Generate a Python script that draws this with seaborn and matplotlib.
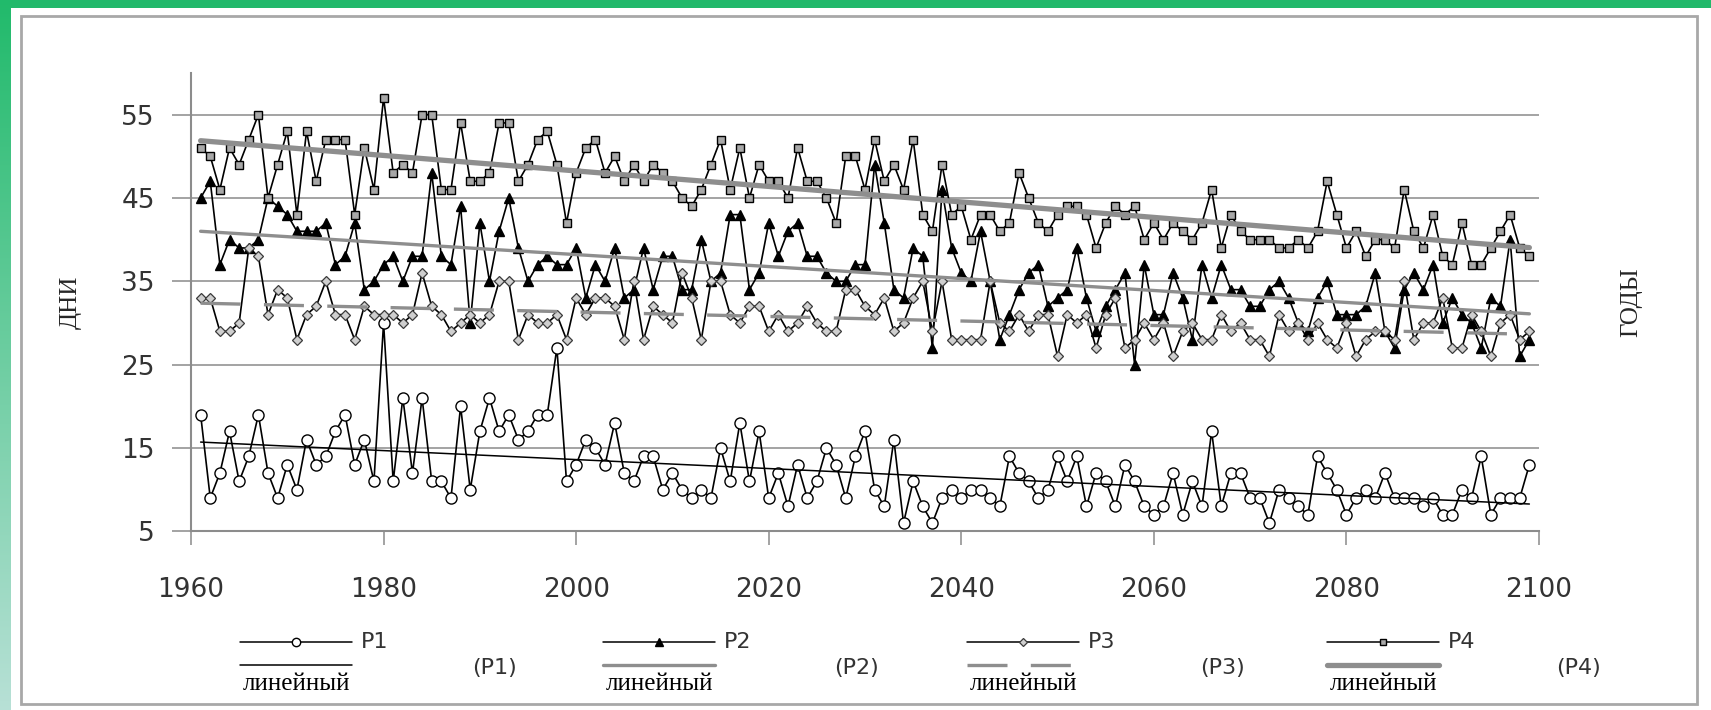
import numpy as np
import matplotlib
matplotlib.use("Agg")
import matplotlib.pyplot as plt
import seaborn as sns
from matplotlib.lines import Line2D
from matplotlib.patches import Rectangle

# годы и ряды
years = list(range(1961, 2100))

p1 = [19, 9, 12, 17, 11, 14, 19, 12, 9, 13,
      10, 16, 13, 14, 17, 19, 13, 16, 11, 30,
      11, 21, 12, 21, 11, 11, 9, 20, 10, 17,
      21, 17, 19, 16, 17, 19, 19, 27, 11, 13,
      16, 15, 13, 18, 12, 11, 14, 14, 10, 12,
      10, 9, 10, 9, 15, 11, 18, 11, 17, 9,
      12, 8, 13, 9, 11, 15, 13, 9, 14, 17,
      10, 8, 16, 6, 11, 8, 6, 9, 10, 9,
      10, 10, 9, 8, 14, 12, 11, 9, 10, 14,
      11, 14, 8, 12, 11, 8, 13, 11, 8, 7,
      8, 12, 7, 11, 8, 17, 8, 12, 12, 9,
      9, 6, 10, 9, 8, 7, 14, 12, 10, 7,
      9, 10, 9, 12, 9, 9, 9, 8, 9, 7,
      7, 10, 9, 14, 7, 9, 9, 9, 13]

p2 = [45, 47, 37, 40, 39, 39, 40, 45, 44, 43,
      41, 41, 41, 42, 37, 38, 42, 34, 35, 37,
      38, 35, 38, 38, 48, 38, 37, 44, 30, 42,
      35, 41, 45, 39, 35, 37, 38, 37, 37, 39,
      33, 37, 35, 39, 33, 34, 39, 34, 38, 38,
      34, 34, 40, 35, 36, 43, 43, 34, 36, 42,
      38, 41, 42, 38, 38, 36, 35, 35, 37, 37,
      49, 42, 34, 33, 39, 38, 27, 46, 39, 36,
      35, 41, 35, 28, 31, 34, 36, 37, 32, 33,
      34, 39, 33, 29, 32, 34, 36, 25, 37, 31,
      31, 36, 33, 28, 37, 33, 37, 34, 34, 32,
      32, 34, 35, 33, 30, 29, 33, 35, 31, 31,
      31, 32, 36, 29, 27, 34, 36, 34, 37, 30,
      33, 31, 30, 27, 33, 32, 40, 26, 28]

p3 = [33, 33, 29, 29, 30, 39, 38, 31, 34, 33,
      28, 31, 32, 35, 31, 31, 28, 32, 31, 31,
      31, 30, 31, 36, 32, 31, 29, 30, 31, 30,
      31, 35, 35, 28, 31, 30, 30, 31, 28, 33,
      31, 33, 33, 32, 28, 35, 28, 32, 31, 30,
      36, 33, 28, 35, 35, 31, 30, 32, 32, 29,
      31, 29, 30, 32, 30, 29, 29, 34, 34, 32,
      31, 33, 29, 30, 33, 35, 29, 35, 28, 28,
      28, 28, 35, 30, 29, 31, 29, 31, 31, 26,
      31, 30, 31, 27, 31, 33, 27, 28, 30, 28,
      30, 26, 29, 30, 28, 28, 31, 29, 30, 28,
      28, 26, 31, 29, 30, 28, 30, 28, 27, 30,
      26, 28, 29, 29, 28, 35, 28, 30, 30, 33,
      27, 27, 31, 29, 26, 30, 31, 28, 29]

p4 = [51, 50, 46, 51, 49, 52, 55, 45, 49, 53,
      43, 53, 47, 52, 52, 52, 43, 51, 46, 57,
      48, 49, 48, 55, 55, 46, 46, 54, 47, 47,
      48, 54, 54, 47, 49, 52, 53, 49, 42, 48,
      51, 52, 48, 50, 47, 49, 47, 49, 48, 47,
      45, 44, 46, 49, 52, 46, 51, 45, 49, 47,
      47, 45, 51, 47, 47, 45, 42, 50, 50, 46,
      52, 47, 49, 46, 52, 43, 41, 49, 43, 44,
      40, 43, 43, 41, 42, 48, 45, 42, 41, 43,
      44, 44, 43, 39, 42, 44, 43, 44, 40, 42,
      40, 42, 41, 40, 42, 46, 39, 43, 41, 40,
      40, 40, 39, 39, 40, 39, 41, 47, 43, 39,
      41, 38, 40, 40, 39, 46, 41, 39, 43, 38,
      37, 42, 37, 37, 39, 41, 43, 39, 38]

names = ["P1", "P2", "P3", "P4"]
series = [p1, p2, p3, p4]
for s in series:
    assert len(s) == len(years)

yticks = [5, 15, 25, 35, 45, 55]
xticks = [1960, 1980, 2000, 2020, 2040, 2060, 2080, 2100]

# стили маркеров и линий тренда
mark = {
    "P1": dict(marker="o", ms=8.0, mfc="white", mec="black", mew=1.0),
    "P2": dict(marker="^", ms=7.0, mfc="black", mec="black", mew=1.0),
    "P3": dict(marker="D", ms=5.0, mfc="#cfcfcf", mec="#3a3a3a", mew=0.9),
    "P4": dict(marker="s", ms=6.3, mfc="#a8a8a8", mec="black", mew=1.0),
}
trend = {
    "P1": dict(color="black", lw=1.1, ls="-"),
    "P2": dict(color="#8e8e8e", lw=2.4, ls="-"),
    "P3": dict(color="#8e8e8e", lw=2.4, ls=(0, (12, 7))),
    "P4": dict(color="#8e8e8e", lw=3.8, ls="-"),
}

sns.set_theme(style="white")
plt.rcParams["font.family"] = ["DejaVu Sans"]

W, H = 1711, 710
fig = plt.figure(figsize=(W / 100, H / 100), dpi=100)
fig.patch.set_facecolor("white")


def fx(px):
    return px / W


def fy(py):
    return 1 - py / H


# зелёная рамка слайда
fig.add_artist(Rectangle((0, fy(8)), 1, fy(0) - fy(8), transform=fig.transFigure,
                         color="#22b96b", lw=0, zorder=0))
gax = fig.add_axes([0, 0, fx(11), 1])
grad = np.linspace(0, 1, 256).reshape(-1, 1)
top = np.array([0.13, 0.73, 0.42])
bot = np.array([0.72, 0.88, 0.84])
img = top + (bot - top) * grad[:, :, None]
gax.imshow(img, aspect="auto", extent=[0, 1, 0, 1])
gax.axis("off")

# серая рамка диаграммы
fig.add_artist(Rectangle((fx(21), fy(704)), fx(1697) - fx(21), fy(16) - fy(704),
                         transform=fig.transFigure, fill=False, ec="#a8a8a8", lw=2))

ax = fig.add_axes([fx(191), fy(531.4), fx(1539) - fx(191), fy(72.9) - fy(531.4)])
ax.set_facecolor("white")

for name, vals in zip(names, series):
    sns.lineplot(x=years, y=vals, ax=ax, color="black", lw=1.2, zorder=3)
    ax.lines[-1].set(**mark[name])
for name, vals in zip(names, series):
    sns.regplot(x=np.array(years), y=np.array(vals), ax=ax, scatter=False, ci=None,
                truncate=True, line_kws=dict(zorder=4, **trend[name]))

ax.set_xlim(1960, 2100)
ax.set_ylim(5, 60)
ax.set_xticks(xticks)
ax.set_yticks(yticks)
ax.set_xlabel("")
ax.set_ylabel("")
ax.yaxis.grid(True, color="#9c9c9c", lw=1.3)
ax.xaxis.grid(False)
ax.set_axisbelow(True)
for side in ["top", "right"]:
    ax.spines[side].set_visible(False)
for side in ["left", "bottom"]:
    ax.spines[side].set_color("#8c8c8c")
    ax.spines[side].set_linewidth(1.5)
ax.tick_params(axis="y", left=True, direction="out", length=14, width=1.3,
               color="#9c9c9c", pad=12, labelsize=19, labelcolor="#333333")
ax.tick_params(axis="x", bottom=True, direction="out", length=10, width=1.3,
               color="#9c9c9c", pad=23, labelsize=19, labelcolor="#333333")

fig.text(fx(71), fy(302), "ДНИ", rotation=90, ha="center", va="center",
         family="Liberation Serif", fontsize=18)
fig.text(fx(1631), fy(302), "ГОДЫ", rotation=90, ha="center", va="center",
         family="Liberation Serif", fontsize=18)

# легенда
leg_x = [240, 603, 967, 1327]
leg_par = [494, 857, 1222, 1579]
hl = 112
for name, x0, xp in zip(names, leg_x, leg_par):
    fig.add_artist(Line2D([fx(x0), fx(x0 + hl)], [fy(642), fy(642)],
                          transform=fig.transFigure, color="black", lw=1.1))
    m = dict(mark[name])
    m["ms"] = m["ms"] * 0.75
    fig.add_artist(Line2D([fx(x0 + hl / 2)], [fy(642)], transform=fig.transFigure,
                          ls="none", **m))
    fig.text(fx(x0 + hl + 9), fy(642), name, ha="left", va="center",
             fontsize=16, color="#333333")
    fig.add_artist(Line2D([fx(x0), fx(x0 + hl)], [fy(665), fy(665)],
                          transform=fig.transFigure, **trend[name]))
    fig.text(fx(x0 + hl / 2), fy(684), "линейный", ha="center", va="center",
             family="Liberation Serif", fontsize=18, color="black")
    fig.text(fx(xp), fy(668), "(" + name + ")", ha="center", va="center",
             fontsize=16, color="#333333")

fig.savefig("out.png", dpi=100)
